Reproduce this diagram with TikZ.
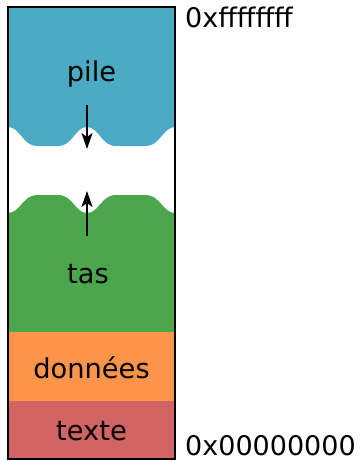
\documentclass[tikz,border=0pt]{standalone}
\usepackage{fontspec}
\setmainfont{DejaVu Sans}
\usetikzlibrary{arrows.meta}
\definecolor{stackblue}{RGB}{75,170,196}
\definecolor{heapgreen}{RGB}{76,166,76}
\definecolor{dataorange}{RGB}{253,148,74}
\definecolor{textred}{RGB}{210,99,99}
\tikzset{
  seglabel/.style={anchor=base, font=\fontsize{27.3}{31}\selectfont, inner sep=0pt},
  addrlabel/.style={anchor=base west, font=\fontsize{27}{31}\selectfont, inner sep=0pt},
  growarrow/.style={line width=2.2pt, -{Stealth[length=16pt, width=11pt, inset=4pt]}},
}
\begin{document}
\begin{tikzpicture}[x=1pt, y=-1pt]
\useasboundingbox (0,0) rectangle (360,461);
% stack region with a wavy lower edge
\fill[stackblue] (8,7) -- (175,7) -- (175,127)
  .. controls (163,127) and (160,146) .. (146,146) -- (116,146)
  .. controls (101,146) and (99,127) .. (87,127)
  .. controls (75,127) and (73,146) .. (58,146) -- (37,146)
  .. controls (23,146) and (20,127) .. (8,127) -- cycle;
% heap region with a wavy upper edge
\fill[heapgreen] (8,332) -- (175,332) -- (175,213)
  .. controls (163,213) and (160,195) .. (146,195) -- (116,195)
  .. controls (101,195) and (99,213) .. (87,213)
  .. controls (75,213) and (73,195) .. (58,195) -- (37,195)
  .. controls (23,195) and (20,213) .. (8,213) -- cycle;
% data and text segments
\fill[dataorange] (8,332) rectangle (175,401);
\fill[textred] (8,401) rectangle (175,459);
% outline of the address space
\draw[line width=1.6pt] (8,7) rectangle (175,459);
% growth arrows
\coordinate (stacktail) at (87,105);
\coordinate (stackhead) at (87,149);
\coordinate (heaptail) at (87,236);
\coordinate (heaphead) at (87,191);
\draw[growarrow] (stacktail) -- (stackhead);
\draw[growarrow] (heaptail) -- (heaphead);
% segment labels
\node[seglabel] (pile) at (91.5,81) {pile};
\node[seglabel] (tas) at (88,283) {tas};
\node[seglabel] (donnees) at (91.5,378) {données};
\node[seglabel] (texte) at (91.5,440) {texte};
% address labels
\node[addrlabel] (top) at (185,27) {0xffffffff};
\node[addrlabel] (bottom) at (185,455) {0x00000000};
\end{tikzpicture}
\end{document}
